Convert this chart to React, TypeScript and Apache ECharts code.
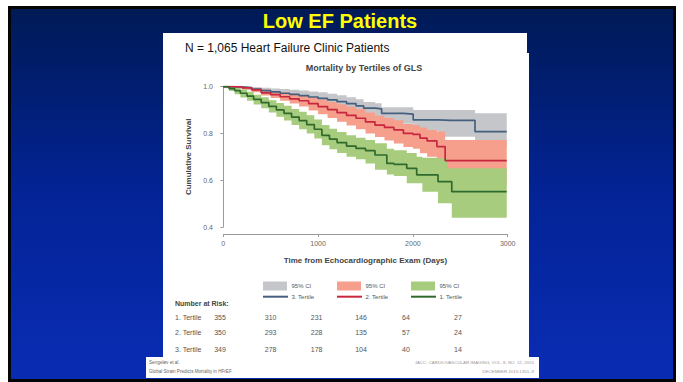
import React, { useEffect, useRef } from 'react';
import * as echarts from 'echarts';

// ---------------- DATA ----------------
const xTicks = [0, 1000, 2000, 3000];
const yTicks = [0.4, 0.6, 0.8, 1.0];

// 3. Tertile (blue line, grey CI)
const days3 = [0, 100, 200, 300, 400, 500, 600, 700, 800, 900, 1000, 1100, 1200, 1300, 1400, 1480, 1600, 1670, 1800, 1900, 2003, 2100, 2270, 2400, 2655, 2990];
const surv3 = [1.0, 0.999, 0.996, 0.99, 0.983, 0.978, 0.972, 0.967, 0.962, 0.956, 0.95, 0.944, 0.936, 0.928, 0.918, 0.908, 0.905, 0.886, 0.886, 0.883, 0.858, 0.858, 0.856, 0.856, 0.808, 0.808];
const hi3 = [1.0, 1.0, 1.0, 0.998, 0.995, 0.992, 0.99, 0.987, 0.984, 0.98, 0.976, 0.97, 0.963, 0.955, 0.946, 0.935, 0.929, 0.912, 0.912, 0.912, 0.9, 0.9, 0.9, 0.9, 0.886, 0.886];
const lo3 = [1.0, 0.99, 0.985, 0.978, 0.968, 0.96, 0.952, 0.945, 0.938, 0.93, 0.922, 0.914, 0.905, 0.895, 0.884, 0.872, 0.868, 0.848, 0.846, 0.842, 0.812, 0.81, 0.786, 0.786, 0.74, 0.74];

// 2. Tertile (red line, salmon CI)
const days2 = [0, 100, 200, 300, 400, 500, 600, 700, 800, 900, 1000, 1100, 1200, 1300, 1400, 1500, 1600, 1700, 1800, 1900, 2000, 2075, 2150, 2253, 2340, 2990];
const surv2 = [1.0, 0.999, 0.995, 0.986, 0.974, 0.966, 0.957, 0.948, 0.94, 0.928, 0.915, 0.902, 0.889, 0.877, 0.865, 0.85, 0.836, 0.826, 0.815, 0.8, 0.796, 0.78, 0.768, 0.744, 0.684, 0.684];
const hi2 = [1.0, 1.0, 1.0, 0.995, 0.988, 0.982, 0.976, 0.97, 0.965, 0.955, 0.945, 0.935, 0.925, 0.915, 0.905, 0.89, 0.876, 0.866, 0.856, 0.84, 0.836, 0.825, 0.815, 0.808, 0.772, 0.772];
const lo2 = [1.0, 0.995, 0.988, 0.976, 0.962, 0.952, 0.94, 0.928, 0.915, 0.898, 0.882, 0.866, 0.85, 0.834, 0.818, 0.8, 0.785, 0.77, 0.757, 0.742, 0.735, 0.715, 0.7, 0.67, 0.58, 0.58];

// 1. Tertile (green line, green CI)
const days1 = [0, 60, 120, 180, 250, 320, 400, 480, 560, 640, 720, 800, 880, 960, 1040, 1120, 1200, 1300, 1400, 1500, 1600, 1725, 1800, 1935, 2040, 2100, 2265, 2360, 2410, 2990];
const surv1 = [1.0, 0.992, 0.983, 0.972, 0.96, 0.946, 0.932, 0.916, 0.901, 0.886, 0.87, 0.855, 0.838, 0.818, 0.792, 0.776, 0.761, 0.746, 0.736, 0.727, 0.708, 0.672, 0.668, 0.651, 0.623, 0.623, 0.594, 0.594, 0.551, 0.551];
const hi1 = [1.0, 1.0, 0.995, 0.988, 0.978, 0.966, 0.955, 0.942, 0.93, 0.918, 0.905, 0.893, 0.878, 0.86, 0.836, 0.82, 0.806, 0.792, 0.782, 0.772, 0.758, 0.735, 0.728, 0.716, 0.7, 0.696, 0.694, 0.651, 0.651, 0.651];
const lo1 = [1.0, 0.982, 0.968, 0.954, 0.94, 0.924, 0.908, 0.89, 0.872, 0.855, 0.836, 0.818, 0.8, 0.778, 0.75, 0.732, 0.716, 0.7, 0.69, 0.672, 0.645, 0.625, 0.618, 0.587, 0.587, 0.551, 0.502, 0.502, 0.44, 0.44];

const legendLabels = ['3. Tertile', '2. Tertile', '1. Tertile'];
const ciLabel = '95% CI';

const riskTitle = 'Number at Risk:';
const riskRowLabels = ['1. Tertile', '2. Tertile', '3. Tertile'];
const riskRow1 = [355, 310, 231, 146, 64, 27];
const riskRow2 = [350, 293, 228, 135, 57, 24];
const riskRow3 = [349, 278, 178, 104, 40, 14];

const slideTitle = 'Low EF Patients';
const subtitle = 'N = 1,065 Heart Failure Clinic Patients';
const chartTitle = 'Mortality by Tertiles of GLS';
const xName = 'Time from Echocardiographic Exam (Days)';
const yName = 'Cumulative Survival';
const citeLeft = ['Sengeløv et al.', 'Global Strain Predicts Mortality in HFrEF'];
const citeRight = ['JACC: CARDIOVASCULAR IMAGING, VOL. 8, NO. 12, 2015', 'DECEMBER 2015:1351–9'];

// ---------------- STYLE ----------------
const FONT = '"Liberation Sans", Arial, Helvetica, sans-serif';
const C_GREY = '#c5c6ca';
const C_SALMON = '#f59f8c';
const C_LGREEN = '#a7cc7d';
const C_BLUE = '#45607f';
const C_RED = '#c8273f';
const C_GREEN = '#2f6a2c';

function pairs(d: number[], v: number[]) {
  return d.map((x, i) => [x, v[i]]);
}

function band(days: number[], lo: number[], hi: number[], color: string) {
  return {
    type: 'custom',
    coordinateSystem: 'cartesian2d',
    silent: true,
    clip: true,
    z: 2,
    data: [[days[0], hi[0]]],
    renderItem: (_p: any, api: any) => {
      const pts: number[][] = [];
      const n = days.length;
      for (let i = 0; i < n; i++) {
        const x1 = i + 1 < n ? days[i + 1] : days[i];
        pts.push(api.coord([days[i], hi[i]]));
        pts.push(api.coord([x1, hi[i]]));
      }
      for (let i = n - 1; i >= 0; i--) {
        const x1 = i + 1 < n ? days[i + 1] : days[i];
        pts.push(api.coord([x1, lo[i]]));
        pts.push(api.coord([days[i], lo[i]]));
      }
      return { type: 'polygon', shape: { points: pts }, style: { fill: color, stroke: null } };
    },
  };
}

function km(days: number[], surv: number[], color: string) {
  return {
    type: 'line',
    step: 'end',
    showSymbol: false,
    silent: true,
    z: 5,
    lineStyle: { color, width: 1.7 },
    data: pairs(days, surv),
  };
}

function txt(text: string, x: number, y: number, size: number, color: string, opts: any = {}) {
  return {
    type: 'text',
    z: 20,
    silent: true,
    style: {
      text,
      x,
      y,
      fill: color,
      fontSize: size,
      fontFamily: FONT,
      fontWeight: opts.bold ? 'bold' : 'normal',
      textAlign: opts.align || 'left',
      textVerticalAlign: 'middle',
    },
  };
}

function buildGraphic() {
  const g: any[] = [];
  // slide frame
  g.push({ type: 'rect', z: -100, silent: true, shape: { x: 0, y: 0, width: 683, height: 382 }, style: { fill: '#ffffff' } });
  g.push({ type: 'rect', z: -99, silent: true, shape: { x: 8, y: 6, width: 668, height: 376 }, style: { fill: '#050505' } });
  g.push({
    type: 'rect', z: -98, silent: true,
    shape: { x: 11, y: 9, width: 662, height: 370 },
    style: {
      fill: new echarts.graphic.LinearGradient(0, 0, 0, 1, [
        { offset: 0, color: '#001a56' },
        { offset: 0.5, color: '#032396' },
        { offset: 1, color: '#0a2cb4' },
      ]),
    },
  });
  // white panels
  g.push({ type: 'rect', z: -90, silent: true, shape: { x: 163, y: 33, width: 364, height: 22 }, style: { fill: '#ffffff' } });
  g.push({ type: 'rect', z: -90, silent: true, shape: { x: 163, y: 53, width: 366, height: 305 }, style: { fill: '#ffffff' } });
  g.push({ type: 'rect', z: -89, silent: true, shape: { x: 146, y: 357, width: 393, height: 21 }, style: { fill: '#ffffff' } });

  // titles
  g.push(txt(slideTitle, 340, 21, 20, '#ffff00', { bold: true, align: 'center' }));
  g.push(txt(subtitle, 185, 48, 12, '#111111'));
  g.push(txt(chartTitle, 364, 67.5, 9, '#444444', { bold: true, align: 'center' }));

  // legend
  const lx = [263, 337, 411];
  const bandColors = [C_GREY, C_SALMON, C_LGREEN];
  const lineColors = [C_BLUE, C_RED, C_GREEN];
  for (let i = 0; i < 3; i++) {
    g.push({ type: 'rect', z: 20, silent: true, shape: { x: lx[i], y: 281.5, width: 24, height: 9 }, style: { fill: bandColors[i] } });
    g.push(txt(ciLabel, lx[i] + 28.5, 286, 6, '#555555'));
    g.push({ type: 'line', z: 20, silent: true, shape: { x1: lx[i], y1: 296.7, x2: lx[i] + 25, y2: 296.7 }, style: { stroke: lineColors[i], lineWidth: 2 } });
    g.push(txt(legendLabels[i], lx[i] + 28.5, 297, 6, '#555555'));
  }

  // number at risk
  g.push(txt(riskTitle, 175, 303.5, 7, '#444444', { bold: true }));
  const colX = [220, 270.6, 316.6, 361, 406, 458];
  const rowY = [317.3, 332.8, 349];
  const rows = [riskRow1, riskRow2, riskRow3];
  rows.forEach((row, r) => {
    g.push(txt(riskRowLabels[r], 175, rowY[r], 7, '#555555'));
    row.forEach((v, c) => g.push(txt(String(v), colX[c], rowY[r], 7, '#555555', { align: 'center' })));
  });

  // citation
  g.push(txt(citeLeft[0], 149, 362.5, 4.6, '#666666'));
  g.push(txt(citeLeft[1], 149, 371.5, 4.6, '#666666'));
  g.push(txt(citeRight[0], 534, 362.5, 4.4, '#999999', { align: 'right' }));
  g.push(txt(citeRight[1], 534, 371.5, 4.4, '#999999', { align: 'right' }));
  return g;
}

const axisColor = '#9a9a9a';

export default function App() {
  const ref = useRef<HTMLDivElement>(null);
  useEffect(() => {
    const chart = echarts.init(ref.current as HTMLDivElement, null, { renderer: 'svg' });
    const option: any = {
      animation: false,
      backgroundColor: '#ffffff',
      grid: { left: 223.3, top: 86.7, width: 284.4, height: 140.3, containLabel: false },
      xAxis: {
        type: 'value',
        min: xTicks[0],
        max: xTicks[xTicks.length - 1],
        interval: xTicks[1] - xTicks[0],
        offset: 7,
        axisLine: { show: true, lineStyle: { color: axisColor, width: 1 } },
        axisTick: { show: true, length: 3, lineStyle: { color: axisColor } },
        axisLabel: { fontSize: 7, color: '#666666', margin: 6, fontFamily: FONT, formatter: (v: number) => String(v) },
        splitLine: { show: false },
        name: xName,
        nameLocation: 'middle',
        nameGap: 22,
        nameTextStyle: { fontSize: 8, fontWeight: 'bold', color: '#444444', fontFamily: FONT },
      },
      yAxis: {
        type: 'value',
        min: yTicks[0],
        max: yTicks[yTicks.length - 1],
        interval: 0.2,
        offset: 3.3,
        axisLine: { show: true, lineStyle: { color: axisColor, width: 1 } },
        axisTick: { show: true, length: 3, lineStyle: { color: axisColor } },
        axisLabel: { fontSize: 7, color: '#666666', margin: 7, fontFamily: FONT, formatter: (v: number) => v.toFixed(1) },
        splitLine: { show: false },
        name: yName,
        nameLocation: 'middle',
        nameGap: 28,
        nameRotate: 90,
        nameTextStyle: { fontSize: 8, fontWeight: 'bold', color: '#444444', fontFamily: FONT },
      },
      graphic: buildGraphic(),
      series: [
        band(days3, lo3, hi3, C_GREY),
        band(days2, lo2, hi2, C_SALMON),
        band(days1, lo1, hi1, C_LGREEN),
        km(days3, surv3, C_BLUE),
        km(days2, surv2, C_RED),
        km(days1, surv1, C_GREEN),
      ],
    };
    chart.setOption(option);
    return () => chart.dispose();
  }, []);
  return <div ref={ref} style={{ position: 'fixed', left: 0, top: 0, width: 683, height: 382 }} />;
}
